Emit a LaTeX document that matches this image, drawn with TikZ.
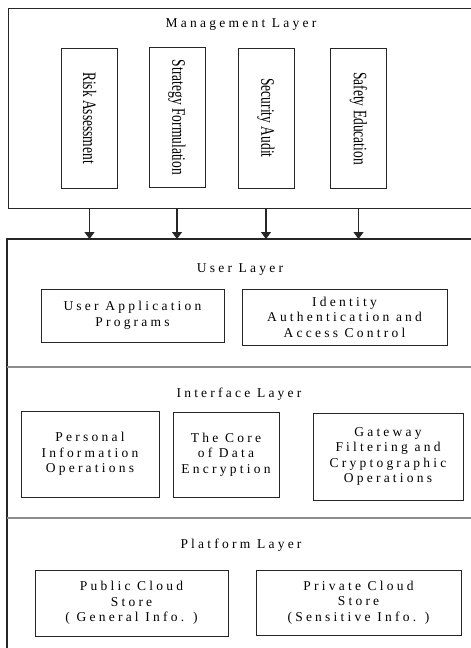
\documentclass[tikz,border=0pt]{standalone}
\usepackage{fontspec}
\setmainfont{Liberation Serif}
\newfontfamily\wideserif[LetterSpace=24]{Liberation Serif}
\newfontfamily\tallserif{Liberation Serif}
\usetikzlibrary{arrows.meta}

\tikzset{
  frame/.style={draw=black!85, line width=1.3pt},
  divider/.style={draw=black!45, line width=1.3pt},
  itembox/.style={draw=black!85, line width=1pt, inner sep=0pt, align=center,
    font=\wideserif\fontsize{13.5}{15.5}\selectfont},
  colbox/.style={draw=black!85, line width=1pt, inner sep=0pt,
    minimum width=56pt, minimum height=140pt,
    font=\tallserif\fontsize{19}{21}\selectfont},
  layertitle/.style={anchor=base, inner sep=0pt,
    font=\wideserif\fontsize{13.5}{15}\selectfont},
  flow/.style={draw=black!85, line width=1.2pt,
    -{Triangle[width=10pt,length=7pt]}},
}
\newcommand{\coltext}[1]{\rotatebox{-90}{\scalebox{0.71}[1]{#1}}}

\begin{document}
\begin{tikzpicture}[x=1pt,y=-1pt]
\useasboundingbox (0,0) rectangle (471,648);
\clip (0,0) rectangle (471,648);

% management layer
\node[frame, minimum width=480pt, minimum height=200pt, anchor=north west, inner sep=0pt]
  (mgmt) at (8,8) {};
\node[layertitle] (mgmttitle) at (241,27) {Management Layer};
\node[colbox] (risk)  at (89.5,118)  {\coltext{Risk Assessment}};
\node[colbox] (strat) at (177,117.5) {\coltext{Strategy Formulation}};
\node[colbox] (audit) at (266,118)   {\coltext{Security Audit}};
\node[colbox] (edu)   at (358.5,118.5) {\coltext{Safety Education}};

% container of the three lower layers
\coordinate (lowtop) at (7,239);
\draw[frame] (490,239) -- (lowtop) -- (7,660);
\draw[divider] (7,367) -- (490,367);
\draw[divider] (7,518) -- (490,518);

% arrows from management to the lower layers
\foreach \n in {risk,strat,audit,edu}
  \draw[flow] (\n.south |- mgmt.south) -- (\n.south |- lowtop);

% user layer
\node[layertitle] (usertitle) at (240,272) {User Layer};
\node[itembox, minimum width=183pt, minimum height=53pt] (uap) at (132.5,315.5)
  {User Application\\Programs};
\node[itembox, minimum width=205pt, minimum height=56pt] (iaac) at (344.5,317)
  {Identity\\Authentication and\\Access Control};

% interface layer
\node[layertitle] (iftitle) at (239,397) {Interface Layer};
\node[itembox, minimum width=138pt, minimum height=86pt] (pio) at (90,454)
  {Personal\\Information\\Operations};
\node[itembox, minimum width=106pt, minimum height=85pt] (cde) at (226,454.5)
  {The Core\\of Data\\Encryption};
\node[itembox, minimum width=150pt, minimum height=87pt] (gfco) at (388,456.5)
  {Gateway\\Filtering and\\Cryptographic\\Operations};

% platform layer
\node[layertitle] (pltitle) at (241,548) {Platform Layer};
\node[itembox, minimum width=193pt, minimum height=66pt] (pub) at (131.5,603)
  {Public Cloud\\Store\\( General Info. )};
\node[itembox, minimum width=205pt, minimum height=65pt] (priv) at (358.5,602.5)
  {Private Cloud\\Store\\(Sensitive Info. )};
\end{tikzpicture}
\end{document}
